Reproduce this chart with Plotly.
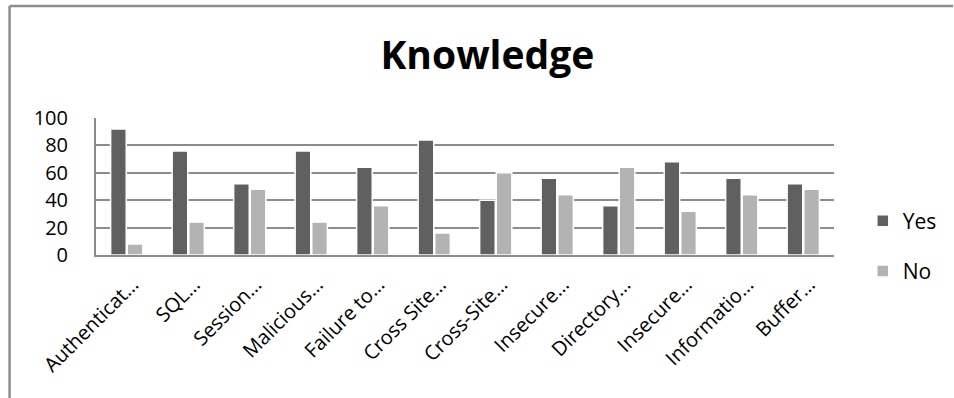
import plotly.graph_objects as go

categories = ["Authenticat…", "SQL…", "Session…", "Malicious…", "Failure to…", "Cross Site…",
              "Cross-Site…", "Insecure…", "Directory…", "Insecure…", "Informatio…", "Buffer…"]
yes_values = [92, 76, 52, 76, 64, 84, 40, 56, 36, 68, 56, 52]
no_values = [8, 24, 48, 24, 36, 16, 60, 44, 64, 32, 44, 48]
y_ticks = [0, 20, 40, 60, 80, 100]

idx = list(range(len(categories)))
FONT = "Open Sans"

fig = go.Figure()
fig.add_trace(go.Bar(x=idx, y=yes_values, name="Yes", legendgroup="a",
                     marker=dict(color="#606060", line=dict(color="white", width=1.5))))
fig.add_trace(go.Bar(x=idx, y=no_values, name="No", legendgroup="b",
                     marker=dict(color="#b3b3b3", line=dict(color="white", width=1.5))))

W, H = 954, 398
L, R, T, B = 96, 115, 118, 143
pw, ph = W - L - R, H - T - B

def px(x):
    return (x - L) / pw

def py(y):
    return 1 - (y - T) / ph

fig.update_layout(
    width=W, height=H,
    margin=dict(l=L, r=R, t=T, b=B),
    paper_bgcolor="white", plot_bgcolor="white",
    barmode="group", bargap=0.46, bargroupgap=0.06,
    showlegend=True,
    legend=dict(x=px(868), y=py(246), xanchor="left", yanchor="middle",
                font=dict(family=FONT, size=21, color="black"), tracegroupgap=20,
                itemwidth=30),
    title=dict(text="<b>Knowledge</b>", x=px(490), xanchor="center", y=1 - 55 / H, yanchor="middle",
               xref="paper", font=dict(family=FONT, size=39, color="black")),
    xaxis=dict(tickvals=idx, ticktext=categories, tickangle=-45, range=[-0.5, 11.5],
               tickfont=dict(family=FONT, size=20, color="black"),
               ticklabelstandoff=8, ticklabelshift=6,
               showline=True, linecolor="#8c8c8c", linewidth=2, showgrid=False, ticks=""),
    yaxis=dict(range=[0, 100], tickvals=y_ticks, showgrid=True, gridcolor="#8c8c8c", gridwidth=1.5,
               showline=True, linecolor="#8c8c8c", linewidth=2, zeroline=False,
               tickfont=dict(family=FONT, size=20, color="black"), ticks="", ticklen=0,
               ticklabelstandoff=22),
    shapes=[
        dict(type="line", xref="paper", yref="paper", x0=px(9), x1=px(9), y0=py(H + 5), y1=py(6),
             line=dict(color="#8c8c8c", width=2.5)),
        dict(type="line", xref="paper", yref="paper", x0=px(9), x1=px(W + 5), y0=py(6), y1=py(6),
             line=dict(color="#8c8c8c", width=2.5)),
    ],
)

fig.write_html("out.html")
